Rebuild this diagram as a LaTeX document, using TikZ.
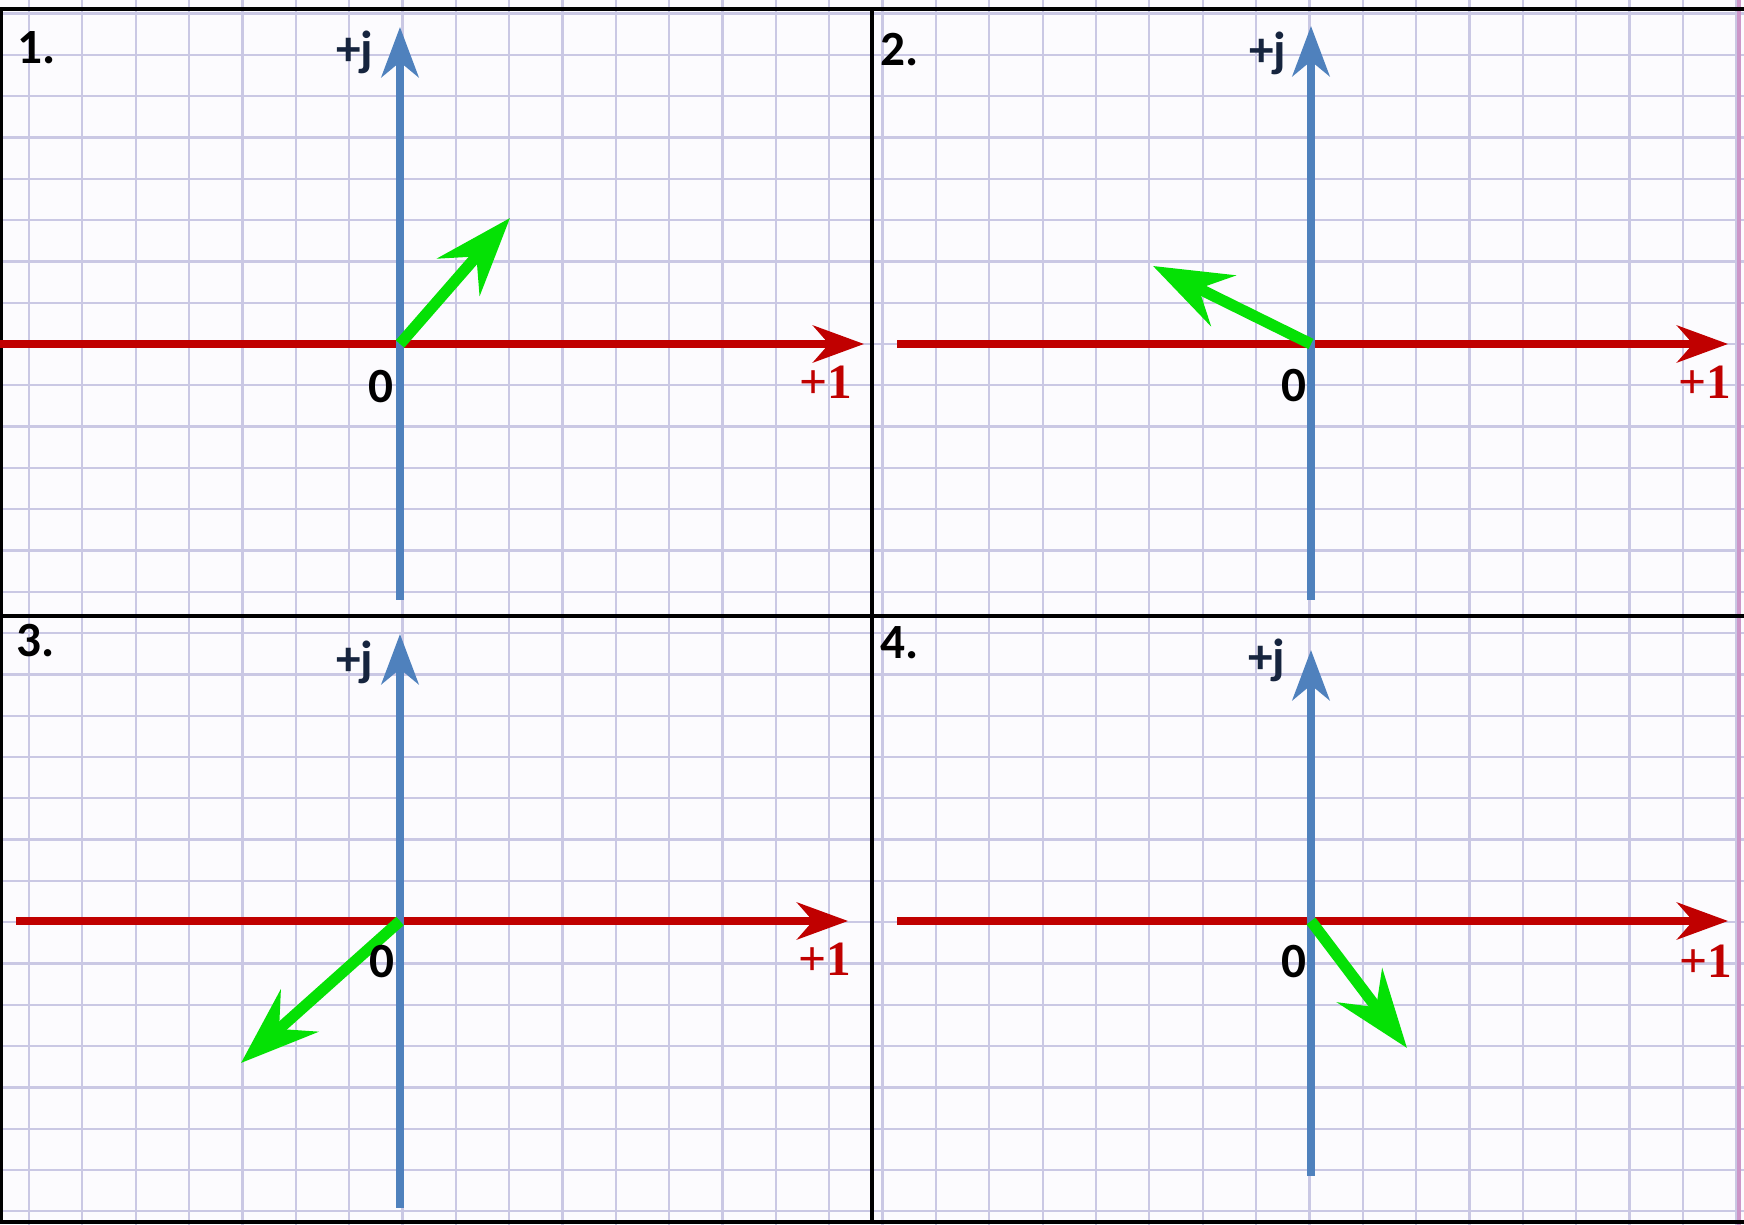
\documentclass[tikz,border=0pt]{standalone}
\usepackage{fontspec}
\usetikzlibrary{arrows.meta}
\newfontfamily\labelfont{Carlito}
\newfontfamily\unitfont{Liberation Serif}

\definecolor{paper}{RGB}{252,251,254}
\definecolor{gridcol}{RGB}{202,200,228}
\definecolor{margincol}{RGB}{205,150,200}
\definecolor{axisred}{RGB}{192,0,0}
\definecolor{axisblue}{RGB}{79,129,189}
\definecolor{phasorgreen}{RGB}{5,225,5}
\definecolor{jnavy}{RGB}{22,36,62}

\tikzset{
  gridline/.style={draw=gridcol, line width=0.65pt},
  frameline/.style={draw=black, line width=0.9pt},
  reaxis/.style={draw=axisred, line width=2pt,
    -{Stealth[length=0.51cm, width=0.37cm, inset=0.16cm]}},
  imaxis/.style={draw=axisblue, line width=2.3pt,
    -{Stealth[length=0.5cm, width=0.37cm, inset=0.15cm]}},
  phasor/.style={draw=phasorgreen, line width=3.2pt,
    -{Stealth[length=0.78cm, width=0.56cm, inset=0.27cm]}},
  numlabel/.style={font=\labelfont\bfseries\fontsize{14}{16}\selectfont, inner sep=0pt},
  jlabel/.style={font=\labelfont\bfseries\fontsize{14}{16}\selectfont, text=jnavy, inner sep=0pt},
  onelabel/.style={font=\unitfont\bfseries\fontsize{14}{16}\selectfont, text=axisred, inner sep=0pt}
}

\begin{document}
\begin{tikzpicture}[x=0.01cm, y=-0.01cm]

\useasboundingbox (0,0) rectangle (1744,1225);
\fill[paper] (0,0) rectangle (1744,1225);

% graph paper
\foreach \i in {0,...,32}
{
    \draw[gridline] ({29+53.35*\i},0) -- ({29+53.35*\i},1225);
}
\foreach \i in {-8,...,21}
{
    \draw[gridline] (0,{344+41.3*\i}) -- (1744,{344+41.3*\i});
}
\draw[draw=margincol, line width=1.4pt] (1739,0) -- (1739,1225);

% frames
\draw[frameline] (0,9) -- (1744,9);
\draw[frameline] (0,1222) -- (1744,1222);
\draw[frameline] (1,9) -- (1,1222);
\draw[frameline] (0,616) -- (1744,616);
\draw[frameline] (872,9) -- (872,1222);

% 1.
\coordinate (o1) at (400,344);
\coordinate (re1s) at (0,344);
\coordinate (re1e) at (864,344);
\coordinate (im1s) at (400,600);
\coordinate (im1e) at (400,27);
\coordinate (v1) at (510,218);
\draw[reaxis] (re1s) -- (re1e);
\draw[imaxis] (im1s) -- (im1e);
\draw[phasor] (o1) -- (v1);
\node[numlabel] (num1) at (37,48) {1.};
\node[jlabel] (j1) at (355,52) {+j};
\node[numlabel] (zero1) at (381,387) {0};
\node[onelabel] (one1) at (826,382) {+1};

% 2.
\coordinate (o2) at (1311,344);
\coordinate (re2s) at (897,344);
\coordinate (re2e) at (1728,344);
\coordinate (im2s) at (1311,600);
\coordinate (im2e) at (1311,26);
\coordinate (v2) at (1153,266);
\draw[reaxis] (re2s) -- (re2e);
\draw[imaxis] (im2s) -- (im2e);
\draw[phasor] (o2) -- (v2);
\node[numlabel] (num2) at (900,50) {2.};
\node[jlabel] (j2) at (1268,53) {+j};
\node[numlabel] (zero2) at (1294,386) {0};
\node[onelabel] (one2) at (1705,382) {+1};

% 3.
\coordinate (o3) at (400,921);
\coordinate (re3s) at (16,921);
\coordinate (re3e) at (848,921);
\coordinate (im3s) at (400,1208);
\coordinate (im3e) at (400,634);
\coordinate (v3) at (241,1063);
\draw[reaxis] (re3s) -- (re3e);
\draw[imaxis] (im3s) -- (im3e);
\draw[phasor] (o3) -- (v3);
\node[numlabel] (num3) at (36,641) {3.};
\node[jlabel] (j3) at (355,662) {+j};
\node[numlabel] (zero3) at (382,962) {0};
\node[onelabel] (one3) at (825,959) {+1};

% 4.
\coordinate (o4) at (1311,921);
\coordinate (re4s) at (897,921);
\coordinate (re4e) at (1728,921);
\coordinate (im4s) at (1311,1176);
\coordinate (im4e) at (1311,650);
\coordinate (v4) at (1407,1048);
\draw[reaxis] (re4s) -- (re4e);
\draw[imaxis] (im4s) -- (im4e);
\draw[phasor] (o4) -- (v4);
\node[numlabel] (num4) at (900,643) {4.};
\node[jlabel] (j4) at (1267,660) {+j};
\node[numlabel] (zero4) at (1294,962) {0};
\node[onelabel] (one4) at (1706,961) {+1};

\end{tikzpicture}
\end{document}
